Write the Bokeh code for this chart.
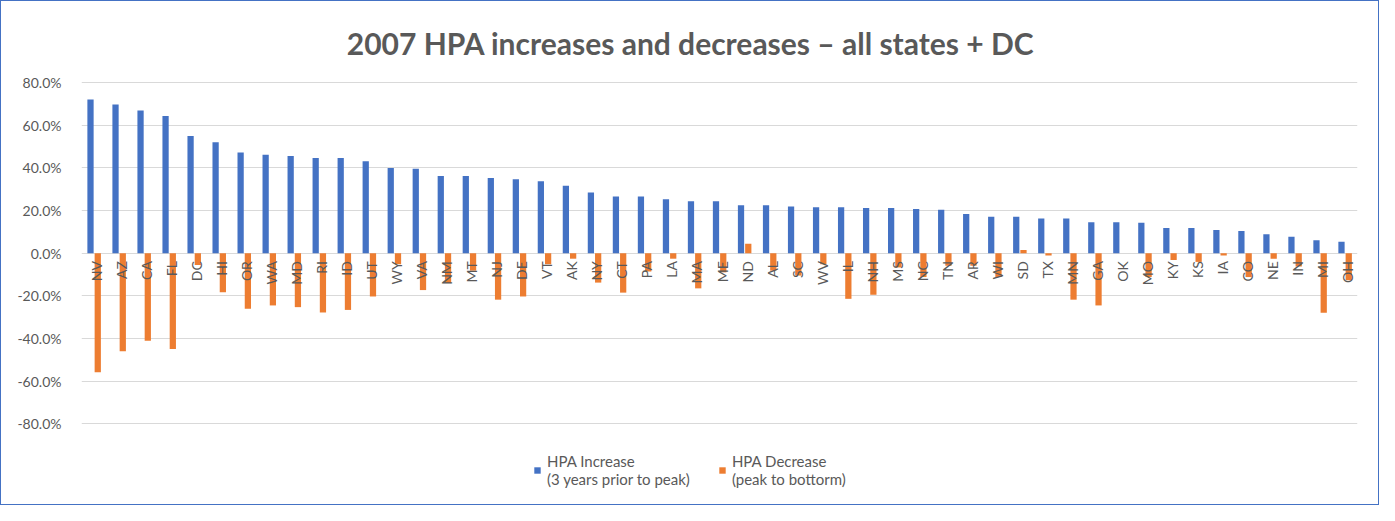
import math
from bokeh.plotting import figure
from bokeh.models import (FactorRange, Range1d, NumeralTickFormatter, FixedTicker,
                          Label, Legend, LegendItem, ColumnDataSource)
from bokeh.transform import dodge
from bokeh.core.properties import value
from bokeh.embed import file_html
from bokeh.resources import INLINE

states = ["NV", "AZ", "CA", "FL", "DC", "HI", "OR", "WA", "MD", "RI", "ID", "UT", "WY",
          "VA", "NM", "MT", "NJ", "DE", "VT", "AK", "NY", "CT", "PA", "LA", "MA", "ME",
          "ND", "AL", "SC", "WV", "IL", "NH", "MS", "NC", "TN", "AR", "WI", "SD", "TX",
          "MN", "GA", "OK", "MO", "KY", "KS", "IA", "CO", "NE", "IN", "MI", "OH"]

hpa_increase_pct = [72.0, 69.6, 66.8, 64.3, 54.9, 52.0, 47.2, 46.1, 45.5, 44.6, 44.6, 43.1,
                    39.9, 39.5, 36.1, 36.1, 35.2, 34.6, 33.7, 31.6, 28.4, 26.5, 26.5, 25.3,
                    24.3, 24.3, 22.4, 22.4, 21.9, 21.5, 21.5, 21.2, 21.2, 20.7, 20.3, 18.3,
                    17.1, 17.1, 16.2, 16.2, 14.5, 14.5, 14.2, 11.8, 11.8, 10.9, 10.4, 8.9,
                    7.7, 6.0, 5.3]

hpa_decrease_pct = [-55.8, -46.0, -41.1, -44.9, -5.5, -18.3, -26.0, -24.5, -25.3, -27.8, -26.6,
                    -20.3, -5.2, -17.3, -14.0, -8.2, -21.8, -20.3, -5.2, -2.6, -13.8, -18.5,
                    -8.6, -2.6, -16.5, -9.0, 4.4, -8.2, -10.5, -5.2, -21.4, -19.5, -6.7,
                    -11.2, -5.9, -5.9, -11.2, 1.5, -1.1, -21.8, -24.5, 0.0, -11.2, -3.2,
                    -4.1, -1.1, -11.2, -2.6, -6.2, -27.9, -12.7]

y_ticks = [-0.8, -0.6, -0.4, -0.2, 0.0, 0.2, 0.4, 0.6, 0.8]

title_text = "2007 HPA increases and decreases \u2013 all states + DC"
legend_inc = "HPA Increase\n(3 years prior to peak)"
legend_dec = "HPA Decrease\n(peak to bottorm)"

BLUE = "#4472C4"
ORANGE = "#ED7D31"
GREY = "#595959"
FONT = "Lato"

src = ColumnDataSource(dict(
    state=states,
    inc=[v / 100 for v in hpa_increase_pct],
    dec=[v / 100 for v in hpa_decrease_pct],
    zero=[0.0] * len(states),
))

# frame spans the whole figure height so that title and legend are drawn inside it
p = figure(x_range=FactorRange(*states, range_padding=0), y_range=Range1d(-1.187, 1.179),
           width=1379, height=505, output_backend="svg", toolbar_location=None,
           min_border_left=80, min_border_right=23, min_border_top=0, min_border_bottom=0)

p.styles = {"border": "1px solid #4472C4"}
p.outline_line_color = None
p.background_fill_color = "white"
p.border_fill_color = "white"

p.xaxis.visible = False
p.xgrid.grid_line_color = None
p.ygrid.ticker = FixedTicker(ticks=y_ticks)
p.ygrid.grid_line_color = "#D9D9D9"
p.ygrid.grid_line_width = 1
p.yaxis.ticker = FixedTicker(ticks=y_ticks)
p.yaxis.formatter = NumeralTickFormatter(format="0.0%")
p.yaxis.axis_line_color = None
p.yaxis.major_tick_line_color = None
p.yaxis.minor_tick_line_color = None
p.yaxis.major_label_text_color = GREY
p.yaxis.major_label_text_font = FONT
p.yaxis.major_label_text_font_size = "14px"
p.yaxis.major_label_standoff = 14

r_inc = p.vbar(x=dodge("state", -0.14, range=p.x_range), top="inc", bottom=0, width=0.25,
               source=src, fill_color=BLUE, line_color=None)
r_dec = p.vbar(x=dodge("state", 0.15, range=p.x_range), top="dec", bottom=0, width=0.25,
               source=src, fill_color=ORANGE, line_color=None)

p.text(x=dodge("state", 0.1, range=p.x_range), y="zero", text="state", source=src,
       angle=math.pi / 2, text_align="right", text_baseline="middle", y_offset=8,
       text_font=value(FONT), text_font_size="14px", text_color=GREY)

title = Label(x=24.35, y=0.985, text=title_text, text_align="center",
              text_baseline="middle", text_font=FONT, text_font_style="bold",
              text_font_size="30px", text_color=GREY)
p.add_layout(title)

legend = Legend(items=[LegendItem(label=legend_inc, renderers=[r_inc]),
                       LegendItem(label=legend_dec, renderers=[r_dec])],
                orientation="horizontal", location=(452, 18),
                glyph_width=8, glyph_height=8, label_standoff=6, spacing=28,
                padding=0, margin=0, border_line_color=None, background_fill_alpha=0,
                label_text_font=FONT, label_text_font_size="15px", label_text_color=GREY,
                label_text_line_height=1.3)
p.add_layout(legend, "center")

open("out.html", "w").write(file_html(p, INLINE))
